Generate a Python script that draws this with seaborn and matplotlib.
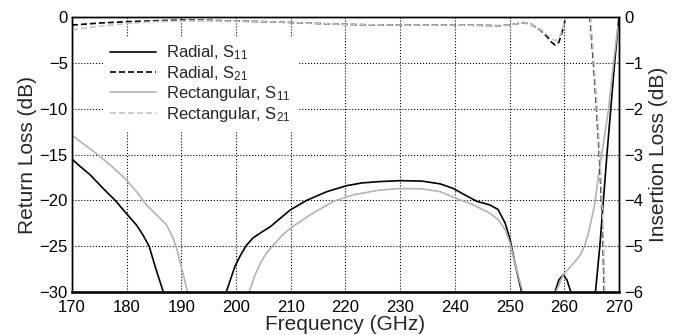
import seaborn as sns
import matplotlib
matplotlib.use('Agg')
import matplotlib.pyplot as plt
from matplotlib.lines import Line2D
import numpy as np

# radial horn, S11 (return loss, left axis)
rad_s11_f = [170, 171.5, 173.3, 175.7, 177.9, 179.9, 181.8, 183.0, 184.1, 185.2, 186.7, 187.5, 190, 195,
             197.5, 198.2, 199.0, 199.8, 200.8, 201.9, 203.1, 204.6, 206.2, 208, 209.9, 212.9, 216.6,
             220.2, 223, 226.0, 230, 234, 237.3, 239.7, 241.8, 244.0, 246.4, 247.9, 249.2, 250.1,
             251.0, 252.2, 253, 255, 257.5, 258.3, 259.0, 259.8, 260.5, 261.2, 262, 264, 265, 265.7,
             266.5, 267.8, 269.2, 270]
rad_s11 = [-15.5, -16.3, -17.2, -18.7, -20.0, -21.4, -22.7, -23.8, -25.0, -27.2, -30.0, -32, -40, -40,
           -32, -30.0, -28.6, -27.2, -26.0, -24.9, -24.1, -23.5, -22.9, -22.0, -21.05, -20.0, -19.05,
           -18.4, -18.1, -17.96, -17.85, -17.9, -18.2, -18.7, -19.4, -20.1, -20.5, -21.0, -22.5, -24.3,
           -26.9, -30.0, -32, -40, -32, -30.0, -28.7, -28.1, -28.7, -30.0, -32, -40, -40, -30.0,
           -25.0, -15.0, -5.0, 0.0]

# rectangular horn, S11
rect_s11_f = [170, 172.7, 174.8, 176.9, 179.7, 181.8, 183.6, 185.5, 187.3, 188.5, 189.4, 190.3, 191.1,
              192, 195, 201.5, 202.4, 203.3, 204.4, 205.5, 206.8, 208.3, 209.9, 213.5, 217.8, 221.4,
              226.0, 230, 234, 237.3, 240.3, 243.4, 246.4, 247.9, 249.2, 250.1, 251.3, 252.4, 253.2,
              255, 257.5, 258.6, 259.2, 259.8, 261.2, 262.9, 263.7, 264.4, 265.0, 265.6, 266.2, 267.1,
              268.1, 269, 269.8]
rect_s11 = [-12.9, -14.1, -15.05, -16.1, -17.6, -19.05, -20.5, -21.6, -22.7, -24.1, -25.8, -28.0, -30.0,
            -32, -40, -32, -30.0, -28.4, -26.9, -25.8, -24.9, -23.9, -23.05, -21.6, -20.1, -19.4,
            -18.9, -18.7, -18.75, -19.05, -19.8, -20.5, -21.4, -22.1, -23.2, -24.7, -27.6, -30.0, -32,
            -40, -31, -29.8, -29.0, -28.1, -27.2, -26.0, -25.0, -23.6, -22.0, -20.3, -17.5, -14.0,
            -10.0, -5.0, -1.0]

# S21 (insertion loss, right axis)
s21_f = [170, 175, 180, 185, 189.7, 195, 200.1, 205, 210.4, 215, 220.2, 225, 230, 235, 240.9, 245,
         248.2, 250.5, 252.5, 254, 255.6, 256.8, 257.6, 258.3, 259.0, 259.6, 260.3, 261.5, 262.5,
         263.7, 264.7, 265.3, 265.9, 266.4, 266.8, 267.1, 267.3, 267.5]
rad_s21 = [-0.175, -0.13, -0.10, -0.08, -0.065, -0.07, -0.087, -0.1, -0.12, -0.14, -0.16, -0.17, -0.175,
           -0.175, -0.175, -0.18, -0.19, -0.16, -0.12, -0.16, -0.28, -0.42, -0.54, -0.61, -0.55, -0.33,
           0.0, 0.4, 0.5, 0.4, 0.0, -0.94, -2.0, -3.0, -4.0, -5.0, -6.0, -7.0]
rect_s21_f = [170, 175, 180, 185, 189.7, 195, 200.1, 205, 210.4, 215, 220.2, 225, 230, 235, 240.9, 245,
              248.2, 250.5, 252.5, 254, 255.6, 256.8, 257.7, 258.4, 259.0, 259.6, 260.3, 261.5, 262.5,
              263.7, 264.8, 265.4, 266.0, 266.5, 266.9, 267.2, 267.4, 267.6]
rect_s21 = [-0.28, -0.2, -0.14, -0.10, -0.085, -0.08, -0.09, -0.1, -0.12, -0.14, -0.16, -0.17, -0.175,
            -0.175, -0.175, -0.18, -0.19, -0.16, -0.12, -0.16, -0.27, -0.38, -0.47, -0.52, -0.47, -0.29,
            0.0, 0.4, 0.5, 0.4, 0.0, -0.94, -2.0, -3.0, -4.0, -5.0, -6.0, -7.0]

sns.set_theme(style='white')
plt.rcParams['font.family'] = ['Liberation Sans', 'DejaVu Sans']
plt.rcParams['mathtext.default'] = 'regular'

fig, ax = plt.subplots(figsize=(6.77, 3.35), dpi=100)
fig.subplots_adjust(left=0.1063, right=0.9143, bottom=0.1284, top=0.949)
ax2 = ax.twinx()

dash = (0, (3.6, 1.8))
black = '#000000'
grey = '#b3b3b3'
grey2 = '#c4c4c4'

sns.lineplot(x=rad_s11_f, y=rad_s11, ax=ax, color=black, lw=1.2, sort=False)
sns.lineplot(x=rect_s11_f, y=rect_s11, ax=ax, color=grey, lw=1.2, sort=False)
sns.lineplot(x=s21_f, y=rad_s21, ax=ax2, color=black, lw=1.2, linestyle=dash, sort=False)
sns.lineplot(x=rect_s21_f, y=rect_s21, ax=ax2, color=grey2, lw=1.2, linestyle=dash, sort=False)

ax.set_xlim(170, 270)
ax.set_ylim(-30, 0)
ax2.set_ylim(-6, 0)
ax.set_xticks(np.arange(170, 271, 10))
ax.set_yticks(np.arange(-30, 1, 5))
ax2.set_yticks(np.arange(-6, 1, 1))
ax.grid(True, linestyle=':', color='black', linewidth=0.8)
ax2.grid(False)

ax.set_xlabel('Frequency (GHz)', fontsize=15, labelpad=0)
ax.set_ylabel('Return Loss (dB)', fontsize=15, labelpad=2)
ax2.set_ylabel('Insertion Loss (dB)', fontsize=15, labelpad=4)
ax.tick_params(axis='both', length=0, labelsize=12, colors='black')
ax.tick_params(axis='x', pad=6)
ax.tick_params(axis='y', pad=3)
ax2.tick_params(axis='y', length=0, labelsize=12, pad=4, colors='black')

for a in (ax, ax2):
    for sp in a.spines.values():
        sp.set_color('black')
        sp.set_linewidth(1.0)
ax2.spines['bottom'].set_linewidth(1.8)

handles = [Line2D([], [], color=black, lw=1.2),
           Line2D([], [], color=black, lw=1.2, linestyle=dash),
           Line2D([], [], color=grey, lw=1.2),
           Line2D([], [], color=grey2, lw=1.2, linestyle=dash)]
labels = ['Radial, S$_{11}$', 'Radial, S$_{21}$', 'Rectangular, S$_{11}$', 'Rectangular, S$_{21}$']
leg = ax2.legend(handles, labels, loc='upper left', bbox_to_anchor=(0.057, 0.928),
                 borderaxespad=0, fontsize=12, handlelength=2.8, handletextpad=0.6,
                 labelspacing=0.1, frameon=True, fancybox=False, framealpha=1)
leg.get_frame().set_edgecolor('none')
leg.get_frame().set_facecolor('white')

fig.savefig('out.png', dpi=100)
